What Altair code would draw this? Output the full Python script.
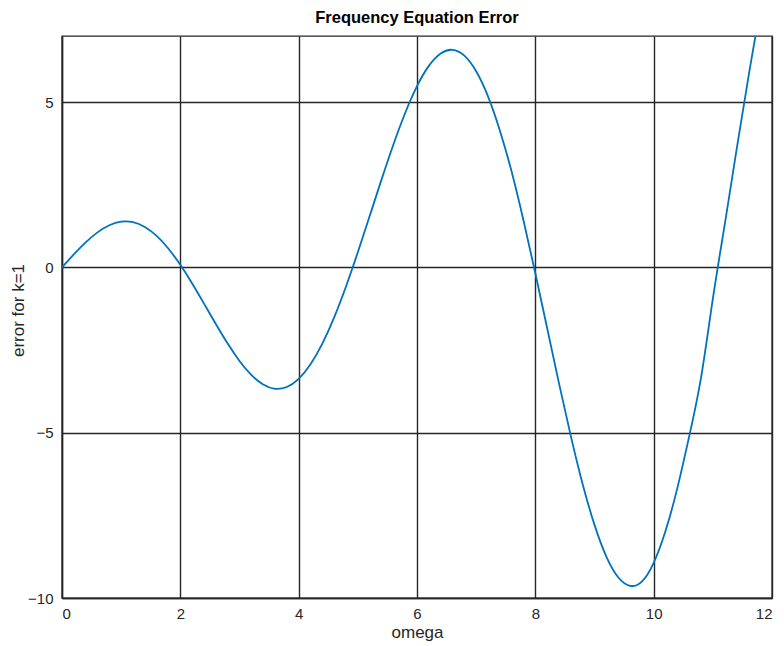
import altair as alt
import pandas as pd

# omega values (x) and error values (y)
omega = [0.0, 0.2, 0.4, 0.6, 0.8, 1.0, 1.2, 1.4, 1.6, 1.8,
         2.0, 2.2, 2.4, 2.6, 2.8, 3.0, 3.2, 3.4, 3.6, 3.8,
         4.0, 4.2, 4.4, 4.6, 4.8, 5.0, 5.2, 5.4, 5.6, 5.8,
         6.0, 6.2, 6.4, 6.6, 6.8, 7.0, 7.2, 7.4, 7.6, 7.8,
         8.0, 8.2, 8.4, 8.6, 8.8, 9.0, 9.2, 9.4, 9.6, 9.8,
         10.0, 10.2, 10.4, 10.6, 10.8, 11.0, 11.2, 11.4, 11.6, 11.8, 12.0]
error = [0.0, 0.395, 0.758, 1.060, 1.275, 1.382, 1.367, 1.223, 0.953, 0.565,
         0.077, -0.486, -1.094, -1.712, -2.303, -2.829, -3.253, -3.543, -3.671, -3.618,
         -3.371, -2.931, -2.304, -1.510, -0.576, 0.459, 1.553, 2.655, 3.712, 4.671,
         5.482, 6.096, 6.473, 6.583, 6.407, 5.934, 5.174, 4.144, 2.893, 1.419,
         -0.175, -1.840, -3.507, -5.105, -6.558, -7.788, -8.746, -9.373, -9.630, -9.503,
         -8.935, -7.973, -6.676, -5.114, -3.343, -0.951, 1.285, 3.547, 5.744, 7.776, 9.590]

x_ticks = [0, 2, 4, 6, 8, 10, 12]
y_ticks = [-10, -5, 0, 5]

df = pd.DataFrame({"omega": omega, "error": error})

FONT = "Liberation Sans"
GRID = "#262626"

chart = (
    alt.Chart(df)
    .mark_line(color="#0072BD", strokeWidth=1.8, clip=True, interpolate="natural")
    .encode(
        x=alt.X(
            "omega:Q",
            scale=alt.Scale(domain=[0, 12], nice=False, zero=False),
            axis=alt.Axis(
                values=x_ticks,
                title="omega",
                grid=True,
                gridColor=GRID,
                gridOpacity=1,
                gridWidth=1.4,
                domainColor=GRID,
                domainWidth=1.4,
                ticks=False,
                labelPadding=8,
                labelFontSize=15,
                labelFont=FONT,
                labelColor=GRID,
                titleFont=FONT,
                titleFontSize=17,
                titleFontWeight="normal",
                titleColor=GRID,
                titleBaseline="alphabetic",
                titleY=39,
            ),
        ),
        y=alt.Y(
            "error:Q",
            scale=alt.Scale(domain=[-10, 7], nice=False, zero=False),
            axis=alt.Axis(
                values=y_ticks,
                title="error for k=1",
                grid=True,
                gridColor=GRID,
                gridOpacity=1,
                gridWidth=1.4,
                domainColor=GRID,
                domainWidth=1.4,
                ticks=False,
                labelPadding=9,
                labelFontSize=15,
                labelFont=FONT,
                labelColor=GRID,
                titleFont=FONT,
                titleFontSize=17,
                titleFontWeight="normal",
                titleColor=GRID,
                titleBaseline="middle",
                titleX=-44,
                titleY=274,
            ),
        ),
    )
    .properties(
        width=710,
        height=562,
        title=alt.TitleParams(
            "Frequency Equation Error",
            font=FONT,
            fontSize=16.5,
            fontWeight="bold",
            color="#000000",
            anchor="middle",
            offset=10,
        ),
        autosize=alt.AutoSizeParams(type="none"),
        padding={"left": 54, "top": 28, "right": 4, "bottom": 48},
    )
    .configure_view(stroke=GRID, strokeWidth=1.4)
)

chart.save("out.html", embed_options={"renderer": "svg", "actions": False})
